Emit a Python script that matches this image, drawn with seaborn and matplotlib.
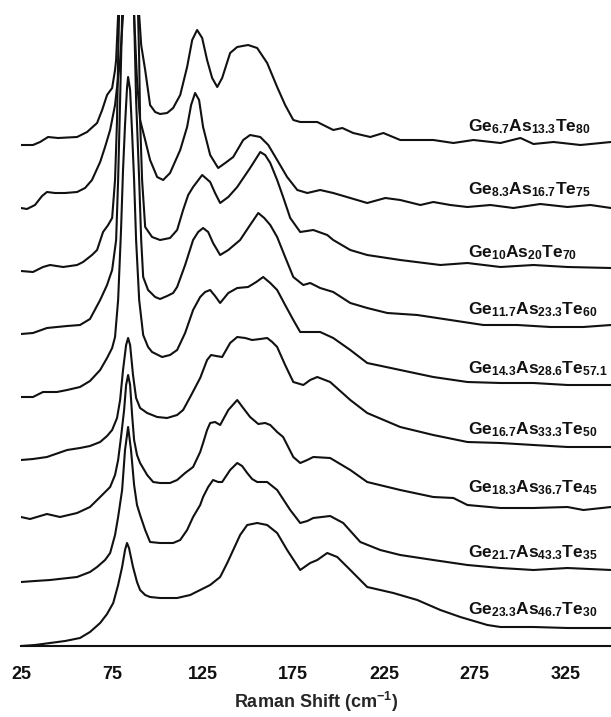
import numpy as np
import pandas as pd
import seaborn as sns
import matplotlib
matplotlib.use("Agg")
import matplotlib.pyplot as plt

# Raman spectra of Ge-As-Te glasses (a.u., each trace relative to its own start)
ge67_shift = [25.0, 31.6, 35.5, 39.9, 45.4, 55.9, 61.4, 66.9, 69.7, 72.4, 75.2, 76.8, 77.4, 78.5, 79.6, 84.0,
              88.9, 90.1, 91.2, 93.4, 96.1, 98.9, 101.6, 105.5, 108.8, 112.7, 116.5, 119.3, 122.0, 124.8, 127.5,
              130.3, 133.1, 135.8, 140.2, 144.1, 150.1, 155.1, 160.6, 166.1, 170.5, 175.0, 178.8, 188.2, 197.0,
              202.0, 208.0, 217.4, 224.6, 233.9, 252.1, 263.2, 274.2, 289.1, 300.1, 307.3, 318.3, 333.2, 350.0]
ge67_int = [0, 0, 3, 8, 7, 8, 13, 22, 35, 50, 57, 75, 85, 130, 205, 345,
            205, 130, 100, 75, 40, 33, 31, 32, 37, 50, 78, 105, 115, 107, 85,
            67, 58, 67, 92, 98, 100, 97, 82, 58, 40, 25, 23, 23, 15,
            17, 12, 8, 12, 5, 5, 2, 5, 2, 7, 1, 3, 0, 3]

ge83_shift = [25.0, 28.3, 32.7, 36.6, 39.3, 43.7, 49.3, 55.9, 60.3, 64.1, 68.6, 71.3, 74.1, 76.8, 79.6, 81.2,
              82.9, 84.0, 85.6, 87.3, 88.9, 90.6, 93.4, 96.1, 100.0, 103.3, 107.1, 112.7, 116.5, 118.7, 120.9,
              123.1, 125.3, 129.2, 133.6, 137.5, 141.9, 147.4, 151.2, 156.8, 161.2, 166.1, 171.6, 177.2, 182.7,
              189.8, 197.0, 206.4, 215.7, 225.7, 233.9, 245.0, 252.1, 261.5, 270.9, 283.6, 296.2, 311.1, 326.0,
              338.7, 350.0]
ge83_int = [0, -1, 3, 12, 16, 15, 15, 16, 20, 28, 46, 61, 78, 103, 148, 193,
            308, 358, 308, 193, 128, 88, 68, 48, 31, 28, 35, 58, 81, 103, 115,
            108, 81, 53, 40, 45, 51, 68, 73, 71, 63, 48, 31, 18, 15,
            18, 15, 10, 5, 10, 8, 3, 6, 3, 1, 3, 0, 4, 1,
            3, 0]

ge10_shift = [25.0, 31.6, 37.1, 41.0, 48.2, 55.9, 59.2, 64.1, 66.9, 70.2, 73.0, 75.2, 76.8, 77.9, 78.5, 79.0,
              80.7, 84.0, 87.3, 89.5, 90.1, 90.6, 91.7, 93.4, 97.2, 101.6, 107.1, 111.0, 114.3, 117.1, 119.8,
              124.8, 129.2, 131.9, 134.7, 139.2, 144.1, 151.2, 156.8, 159.5, 162.3, 166.1, 169.4, 173.3, 178.8,
              186.0, 193.7, 197.0, 206.4, 215.7, 233.9, 256.0, 270.9, 289.1, 307.3, 326.0, 350.0]
ge10_int = [0, -1, 4, 6, 4, 6, 9, 16, 21, 39, 46, 53, 91, 151, 211, 256,
            371, 421, 371, 256, 211, 151, 91, 44, 34, 31, 33, 41, 61, 76, 84,
            96, 89, 78, 68, 74, 84, 103, 119, 116, 108, 91, 74, 53, 39,
            41, 36, 31, 21, 16, 11, 6, 8, 4, 6, 4, 3]

ge117_shift = [25.0, 31.6, 39.3, 50.4, 57.5, 63.0, 68.6, 72.4, 75.2, 77.4, 78.5, 79.6, 80.7, 82.3, 84.0, 85.6,
               87.3, 88.4, 90.1, 91.2, 92.3, 95.0, 98.9, 101.6, 105.5, 108.8, 111.0, 115.4, 119.8, 122.6, 125.3,
               128.1, 130.8, 134.7, 139.2, 145.7, 151.2, 155.7, 159.0, 162.3, 166.1, 170.5, 175.0, 180.5, 184.3,
               189.8, 197.0, 206.4, 215.7, 226.8, 243.3, 261.5, 279.7, 298.4, 316.6, 334.8, 350.0]
ge117_int = [0, 1, 6, 8, 9, 15, 34, 49, 64, 94, 154, 234, 319, 434, 484, 434,
             319, 234, 154, 94, 57, 44, 37, 35, 38, 41, 47, 69, 94, 102, 106,
             102, 91, 79, 84, 94, 109, 121, 116, 109, 97, 77, 57, 49, 51,
             46, 42, 31, 26, 21, 19, 14, 9, 9, 7, 7, 9]

ge143_shift = [25.0, 31.6, 37.1, 44.8, 50.4, 57.5, 63.0, 68.6, 72.4, 75.2, 76.8, 78.5, 80.1, 81.2, 82.3, 83.4,
               84.0, 85.1, 86.2, 87.3, 88.4, 90.1, 92.3, 95.0, 97.2, 102.7, 107.1, 111.0, 115.4, 119.8, 123.7,
               126.4, 129.2, 131.9, 134.7, 139.2, 144.1, 150.1, 154.6, 158.4, 162.3, 166.1, 170.5, 175.0, 178.8,
               184.3, 189.8, 197.0, 206.4, 215.7, 233.9, 252.1, 270.9, 289.1, 307.3, 326.0, 350.0]
ge143_int = [0, 0, 5, 5, 7, 10, 16, 27, 39, 49, 60, 97, 167, 227, 272, 309,
             320, 307, 264, 217, 157, 97, 62, 50, 45, 40, 42, 47, 64, 87, 100,
             105, 107, 101, 94, 104, 109, 110, 115, 120, 114, 107, 92, 77, 65,
             65, 65, 59, 47, 34, 27, 20, 15, 14, 14, 12, 12]

ge167_shift = [25.0, 31.6, 39.3, 50.4, 57.5, 63.0, 68.6, 72.4, 75.2, 77.9, 79.6, 81.2, 82.9, 84.0, 85.1, 86.7,
               88.4, 90.6, 94.5, 100.0, 105.5, 111.0, 114.3, 118.2, 123.7, 127.5, 129.7, 132.5, 135.8, 140.2, 144.1,
               148.5, 152.3, 156.8, 160.6, 163.4, 166.1, 170.5, 175.0, 180.5, 184.3, 188.2, 195.3, 206.4, 215.7,
               233.9, 252.1, 270.9, 289.1, 307.3, 326.0, 350.0]
ge167_int = [0, 1, 3, 10, 12, 14, 18, 24, 30, 42, 60, 90, 115, 122, 115, 85,
             62, 52, 47, 43, 42, 45, 50, 63, 82, 100, 105, 104, 103, 117, 123,
             122, 120, 121, 122, 118, 113, 95, 78, 75, 80, 83, 78, 60, 47,
             33, 25, 18, 17, 15, 13, 13]

ge183_shift = [25.0, 30.0, 39.3, 46.5, 55.9, 63.0, 68.6, 74.1, 76.8, 78.5, 80.1, 81.8, 82.9, 84.0, 85.1, 86.2,
               87.3, 88.9, 90.6, 94.5, 97.8, 101.6, 107.1, 111.0, 115.4, 119.8, 123.7, 125.3, 127.5, 129.2, 131.9,
               134.7, 139.2, 144.1, 147.4, 151.2, 155.7, 159.5, 162.3, 166.1, 169.4, 175.0, 178.8, 182.7, 186.0,
               195.3, 206.4, 215.7, 233.9, 252.1, 263.2, 270.9, 289.1, 307.3, 326.0, 334.8, 350.0]
ge183_int = [0, -2, 3, 0, 4, 10, 20, 30, 42, 57, 80, 107, 132, 142, 132, 102,
             77, 62, 54, 42, 35, 34, 34, 37, 44, 50, 65, 74, 87, 94, 95,
             92, 107, 117, 109, 100, 93, 94, 92, 85, 80, 60, 54, 57, 60,
             59, 47, 35, 27, 20, 19, 12, 9, 9, 10, 7, 10]

ge217_shift = [25.0, 32.7, 41.0, 55.9, 63.0, 66.9, 71.3, 74.1, 76.8, 78.5, 80.7, 82.3, 84.0, 85.6, 87.3, 88.9,
               90.6, 93.4, 96.1, 101.6, 108.8, 112.7, 116.5, 119.8, 123.7, 125.3, 128.1, 130.8, 133.6, 135.8, 140.2,
               144.1, 146.8, 149.6, 152.3, 155.1, 160.6, 166.1, 173.3, 178.8, 182.7, 186.0, 195.3, 202.5, 211.9,
               222.9, 233.9, 252.1, 270.9, 289.1, 307.3, 326.0, 350.0]
ge217_int = [0, 1, 2, 5, 10, 15, 22, 29, 47, 65, 92, 132, 155, 132, 97, 77,
             67, 52, 40, 39, 39, 42, 52, 65, 77, 85, 95, 102, 100, 100, 112,
             119, 116, 109, 103, 100, 100, 92, 72, 59, 61, 64, 66, 59, 40,
             32, 27, 22, 17, 14, 12, 14, 12]

ge233_shift = [25.0, 32.7, 41.0, 49.3, 57.5, 63.0, 68.6, 72.4, 75.8, 78.5, 80.7, 82.3, 83.4, 84.5, 86.7, 88.9,
               90.6, 93.4, 96.1, 101.6, 111.0, 118.2, 123.7, 129.2, 134.7, 138.6, 141.9, 145.7, 149.6, 155.1, 160.6,
               166.1, 171.6, 178.8, 184.3, 188.2, 193.7, 199.2, 206.4, 215.7, 230.1, 243.3, 256.0, 267.0, 281.9,
               289.1, 307.3, 326.0, 350.0]
ge233_int = [0, 1, 3, 5, 8, 14, 23, 32, 43, 61, 79, 96, 103, 98, 79, 64,
             56, 51, 49, 48, 48, 51, 56, 61, 69, 83, 96, 111, 121, 123, 121,
             113, 96, 76, 83, 86, 93, 89, 76, 59, 53, 46, 36, 29, 21,
             19, 19, 18, 18]

labels = ["Ge$_{6.7}$As$_{13.3}$Te$_{80}$", "Ge$_{8.3}$As$_{16.7}$Te$_{75}$", "Ge$_{10}$As$_{20}$Te$_{70}$",
          "Ge$_{11.7}$As$_{23.3}$Te$_{60}$", "Ge$_{14.3}$As$_{28.6}$Te$_{57.1}$", "Ge$_{16.7}$As$_{33.3}$Te$_{50}$",
          "Ge$_{18.3}$As$_{36.7}$Te$_{45}$", "Ge$_{21.7}$As$_{43.3}$Te$_{35}$", "Ge$_{23.3}$As$_{46.7}$Te$_{30}$"]
shifts = [ge67_shift, ge83_shift, ge10_shift, ge117_shift, ge143_shift, ge167_shift, ge183_shift, ge217_shift, ge233_shift]
intensities = [ge67_int, ge83_int, ge10_int, ge117_int, ge143_int, ge167_int, ge183_int, ge217_int, ge233_int]

# vertical stacking of the traces and where each name sits
offsets = [501, 438, 375, 312, 249, 186, 129, 64, 0]
label_y = [519, 456, 393, 336, 277, 216, 158, 93, 36]
label_x = 271.4

sns.set_style("white")
plt.rcParams["font.family"] = ["Liberation Sans", "DejaVu Sans"]
plt.rcParams["font.weight"] = "bold"
plt.rcParams["mathtext.fontset"] = "custom"
plt.rcParams["mathtext.rm"] = "Liberation Sans:bold"
plt.rcParams["mathtext.bf"] = "Liberation Sans:bold"
plt.rcParams["mathtext.default"] = "bf"

fig = plt.figure(figsize=(6.11, 7.17), dpi=100)
ax = fig.add_axes([21 / 611, 71 / 717, 590 / 611, 631 / 717])

for sh, it, off, lab, ly in zip(shifts, intensities, offsets, labels, label_y):
    df = pd.DataFrame({"shift": sh, "y": np.array(it) + off})
    sns.lineplot(data=df, x="shift", y="y", ax=ax, color="#111111", linewidth=1.5,
                 estimator=None, sort=False)
    ax.text(label_x, ly, lab, fontsize=12.5, fontweight="bold", va="center", ha="left", color="#111111")

ax.set_xlim(25, 350)
ax.set_ylim(0, 631)
ax.set_xticks([25, 75, 125, 175, 225, 275, 325])
ax.set_yticks([])
ax.set_ylabel("")
ax.set_xlabel("Raman Shift (cm$^{-1}$)", fontsize=13, fontweight="bold", labelpad=5)
for s in ["top", "left", "right"]:
    ax.spines[s].set_visible(False)
ax.spines["bottom"].set_linewidth(1.5)
ax.spines["bottom"].set_color("#111111")
ax.tick_params(axis="x", direction="out", length=6, width=1.5, pad=8.5, labelsize=13, colors="#111111")
for t in ax.get_xticklabels():
    t.set_fontweight("bold")

fig.savefig("out.png", dpi=100)
